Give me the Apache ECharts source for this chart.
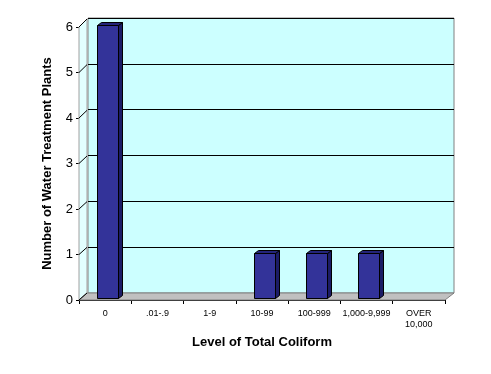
<!DOCTYPE html>
<html><head><meta charset="utf-8">
<script src="https://cdn.jsdelivr.net/npm/echarts@6/dist/echarts.min.js"></script>
<style>html,body{margin:0;padding:0;background:#fff}#c{width:491px;height:374px}</style>
</head><body><div id="c"></div>
<script>
const categories = ['0', '.01-.9', '1-9', '10-99', '100-999', '1,000-9,999', 'OVER\n10,000'];
const plantCounts = [6, 0, 0, 1, 1, 1, 0];
const yTicks = [0, 1, 2, 3, 4, 5, 6];
const xTitle = 'Level of Total Coliform';
const yTitle = 'Number of Water Treatment Plants';

const DX = 8, DY = 7;
const chart = echarts.init(document.getElementById('c'), null, {renderer: 'canvas'});

function wallsItem(params, api) {
  const cs = params.coordSys;
  const x = cs.x, y = cs.y, w = cs.width, h = cs.height;
  const children = [];
  children.push({type: 'polygon', shape: {points: [[x, y], [x + DX, y - DY - 1], [x + DX, y + h - DY], [x, y + h]]},
    style: {fill: '#e2ffff', stroke: '#a0a0a0', lineWidth: 1}});
  children.push({type: 'polygon', shape: {points: [[x, y + h], [x + DX, y + h - DY], [x + w + DX + 1, y + h - DY], [x + w, y + h]]},
    style: {fill: '#c0c0c0', stroke: '#808080', lineWidth: 1}});
  yTicks.forEach(function (v) {
    const p = api.coord([0, v]);
    children.push({type: 'line', shape: {x1: x, y1: p[1], x2: x + DX, y2: p[1] - DY - (v / 6)},
      style: {stroke: '#000', lineWidth: 1}});
  });
  return {type: 'group', children: children};
}

function barItem(params, api) {
  const v = api.value(1);
  if (!v) return null;
  const i = api.value(0);
  const p0 = api.coord([i, 0]);
  const p1 = api.coord([i, v]);
  const bw = api.size([1, 0])[0] * 0.4;
  const ox = 2, oy = -2, dx = 4, dy = -3;
  const l = Math.round(p0[0] - bw / 2 + ox) + 0.5, r = l + Math.round(bw);
  const t = Math.round(p1[1] + oy) + 0.5, b = Math.round(p0[1] + oy) + 0.5;
  return {type: 'group', children: [
    {type: 'polygon', shape: {points: [[r, t], [r + dx, t + dy], [r + dx, b + dy], [r, b]]},
      style: {fill: '#1c1c66', stroke: '#000', lineWidth: 1}},
    {type: 'polygon', shape: {points: [[l, t], [l + dx, t + dy], [r + dx, t + dy], [r, t]]},
      style: {fill: '#24247a', stroke: '#000', lineWidth: 1}},
    {type: 'rect', shape: {x: l, y: t, width: r - l, height: b - t},
      style: {fill: '#333399', stroke: '#000', lineWidth: 1}}
  ]};
}

chart.setOption({
  animation: false,
  backgroundColor: '#ffffff',
  textStyle: {fontFamily: 'Arial, "Liberation Sans", sans-serif'},
  grid: [
    {left: 88, right: 37, top: 18, bottom: 81, show: true, backgroundColor: '#ccffff', borderColor: '#808080', borderWidth: 1, containLabel: false},
    {left: 79, right: 46, top: 27, bottom: 74, containLabel: false}
  ],
  xAxis: [
    {gridIndex: 0, type: 'category', data: categories, show: false},
    {gridIndex: 1, type: 'category', data: categories,
      axisLine: {show: true, lineStyle: {color: '#000', width: 1}},
      axisTick: {show: true, alignWithLabel: false, length: 4, lineStyle: {color: '#000'}},
      axisLabel: {color: '#000', fontSize: 9, lineHeight: 11, margin: 8, interval: 0, fontFamily: 'Arial, "Liberation Sans", sans-serif'},
      name: xTitle, nameLocation: 'middle', nameGap: 36,
      nameTextStyle: {color: '#000', fontSize: 13, fontWeight: 'bold', fontFamily: 'Arial, "Liberation Sans", sans-serif'}}
  ],
  yAxis: [
    {gridIndex: 0, type: 'value', min: 0, max: 6, interval: 1,
      axisLine: {show: false}, axisTick: {show: false}, axisLabel: {show: false},
      splitLine: {show: true, lineStyle: {color: '#000', width: 1}}},
    {gridIndex: 1, type: 'value', min: 0, max: 6, interval: 1,
      axisLine: {show: true, lineStyle: {color: '#000', width: 1}},
      axisTick: {show: true, length: 3, lineStyle: {color: '#000'}},
      axisLabel: {color: '#000', fontSize: 13, margin: 6, fontFamily: 'Arial, "Liberation Sans", sans-serif'},
      splitLine: {show: false},
      name: yTitle, nameLocation: 'middle', nameGap: 25,
      nameTextStyle: {color: '#000', fontSize: 13, fontWeight: 'bold', fontFamily: 'Arial, "Liberation Sans", sans-serif'}}
  ],
  series: [
    {type: 'custom', xAxisIndex: 1, yAxisIndex: 1, data: [[0, 0]], renderItem: wallsItem, z: 1, silent: true},
    {type: 'custom', xAxisIndex: 1, yAxisIndex: 1, data: plantCounts.map(function (v, i) { return [i, v]; }), renderItem: barItem, z: 3, silent: true}
  ]
});
</script></body></html>
